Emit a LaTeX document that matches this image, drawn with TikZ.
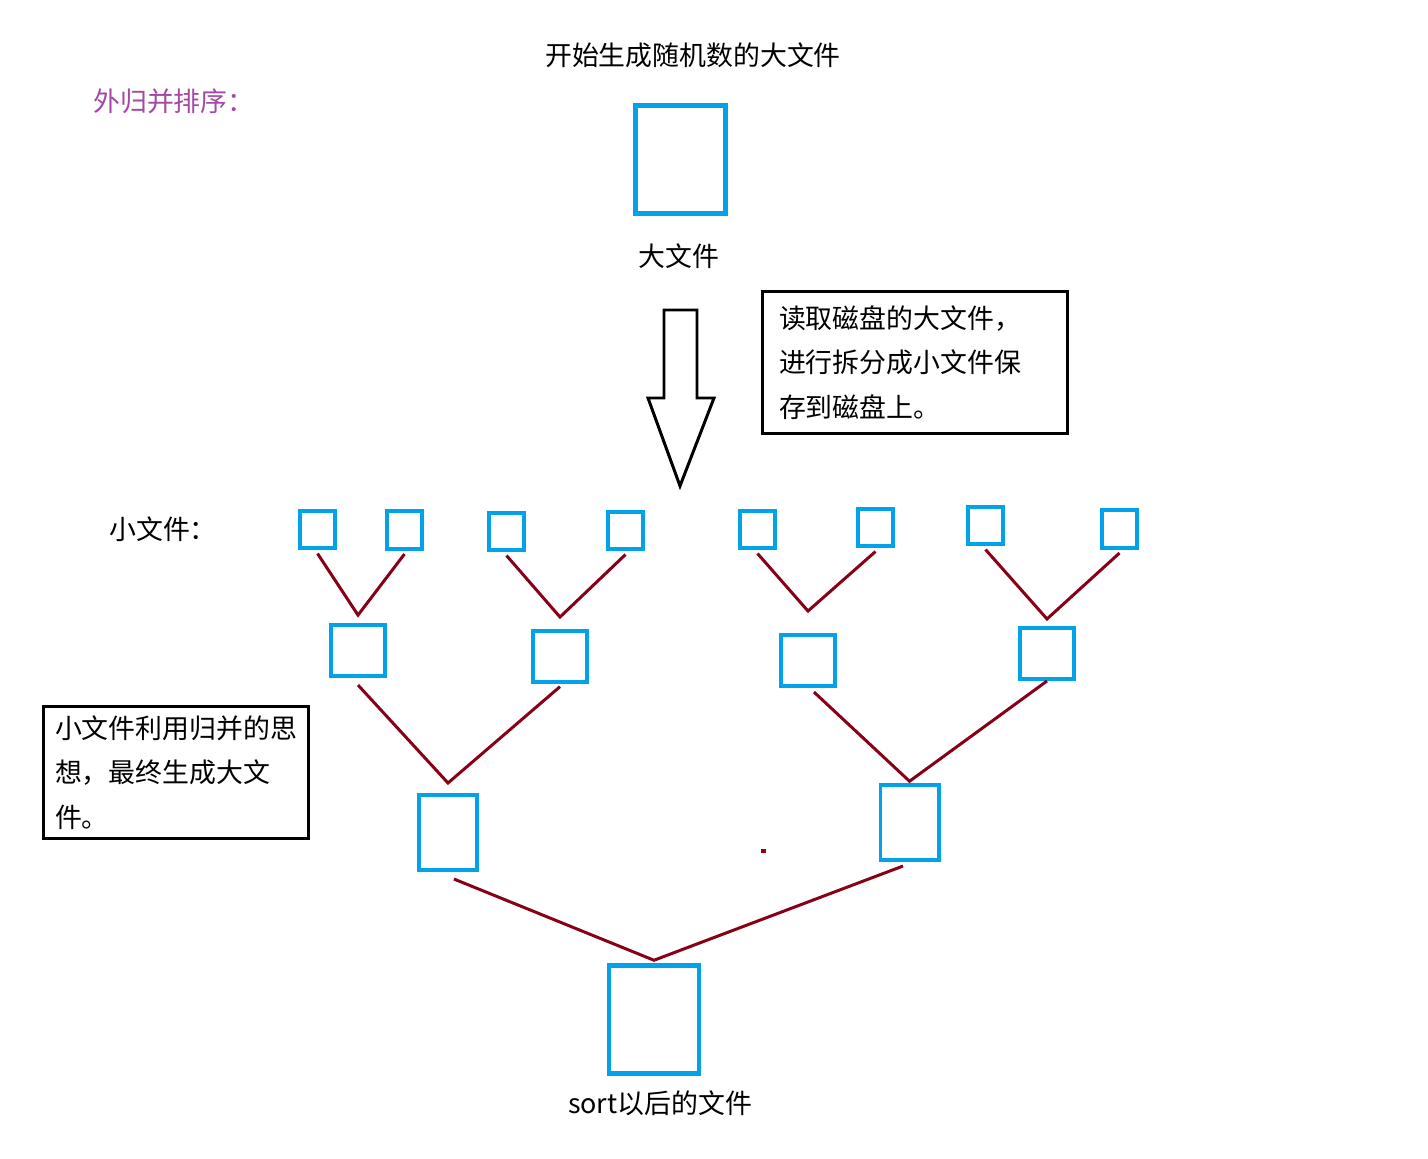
\documentclass[tikz,border=0pt]{standalone}
\usepackage{fontspec}
\setmainfont{Noto Sans CJK SC}
\definecolor{fileblue}{RGB}{0,162,232}
\definecolor{mergered}{RGB}{136,0,21}
\definecolor{headpurple}{RGB}{163,73,164}

\begin{document}
\begin{tikzpicture}[x=0.02cm, y=-0.02cm,
    every node/.style={font=\fontsize{15.3}{25.2}\selectfont, inner sep=0pt},
    file/.style={draw=fileblue, line width=2pt},
    smallfile/.style={file, minimum width=0.71cm, minimum height=0.75cm},
    midfile/.style={file, minimum width=1.09cm, minimum height=1.03cm},
    tallfile/.style={file, minimum width=1.17cm, minimum height=1.51cm},
    bigfile/.style={file, line width=2.6pt, minimum width=1.8cm, minimum height=2.16cm},
    merge/.style={mergered, line width=1.7pt},
    note/.style={draw, line width=1.7pt, align=left}]

            \useasboundingbox (0,0) rectangle (1428,1159);

            \node (title) at (693,55) {开始生成随机数的大文件};
            \node[headpurple, anchor=west] (heading) at (93,101) {外归并排序：};

            \node[bigfile] (big) at (680.5,159.5) {};
            \node (biglabel) at (679,256) {大文件};

            \draw[line width=1.7pt] (664,310) -- (697,310) -- (697,398) -- (714,398) -- (680,486) -- (648,398) -- (664,398) -- cycle;

            \node[note, text width=5.44cm, minimum height=2.86cm, inner xsep=0.33cm] (readnote) at (915,362.5) {读取磁盘的大文件，\\进行拆分成小文件保\\存到磁盘上。};

            \node[anchor=west] (smalllabel) at (109,529) {小文件：};

            \foreach \n/\x/\y in {1/317.5/529.5, 2/404.5/530, 3/506.5/531.5, 4/625.5/530.5, 5/757.5/529.5, 6/875.5/527.5, 7/985.5/525.5, 8/1119.5/529}
                \node[smallfile] (B\n) at (\x,\y) {};

            \node[midfile] (C1) at (358,650.5) {};
            \node[midfile] (C2) at (560,656.5) {};
            \node[midfile] (C3) at (808,660.5) {};
            \node[midfile] (C4) at (1047,653.5) {};

            \node[tallfile] (D1) at (448,832.5) {};
            \node[tallfile] (D2) at (909.5,822.5) {};

            \node[bigfile] (sorted) at (654,1019.5) {};
            \node (sortlabel) at (660,1103) {sort以后的文件};

            \node[note, text width=4.84cm, minimum height=2.66cm, inner xsep=0.23cm] (mergenote) at (176,772.5) {小文件利用归并的思\\想，最终生成大文\\件。};

            \foreach \l/\r/\m/\s in {B1/B2/C1/4.5pt, B3/B4/C2/6.8pt, B5/B6/C3/12.5pt, B7/B8/C4/4pt}
                \draw[merge] ([yshift=-2pt]\l.south) -- ([yshift=\s]\m.north) -- ([yshift=-2pt]\r.south);

            \draw[merge] ([yshift=-4pt]C1.south) -- ([yshift=5.7pt]D1.north) -- ([yshift=-1.5pt]C2.south);
            \draw[merge] ([xshift=3.4pt, yshift=-2.3pt]C3.south) -- ([yshift=1pt]D2.north) -- (C4.south);
            \draw[merge] ([xshift=3.4pt, yshift=-4pt]D1.south) -- ([yshift=1.7pt]sorted.north) -- ([xshift=-3.7pt, yshift=-2.3pt]D2.south);

            \fill[mergered] (761,849) rectangle (766,853);
        \end{tikzpicture}
\end{document}
